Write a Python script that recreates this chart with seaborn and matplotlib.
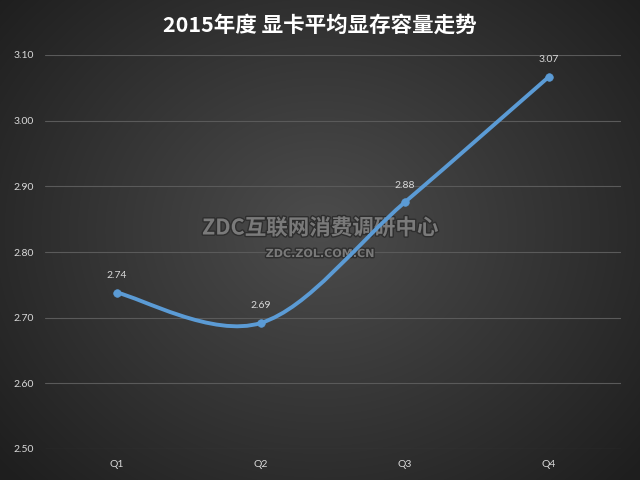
import numpy as np
import pandas as pd
import matplotlib
matplotlib.use("Agg")
import matplotlib.pyplot as plt
import matplotlib.patheffects as pe
from matplotlib.path import Path
from matplotlib.patches import PathPatch
import seaborn as sns

# ----------------------------
# data
# ----------------------------
quarters = ["Q1", "Q2", "Q3", "Q4"]
avg_vram = [2.738, 2.692, 2.876, 3.067]
value_labels = ["2.74", "2.69", "2.88", "3.07"]
y_ticks = [2.50, 2.60, 2.70, 2.80, 2.90, 3.00, 3.10]

title = "2015年度 显卡平均显存容量走势"
wm_main = "ZDC互联网消费调研中心"
wm_sub = "ZDC.ZOL.COM.CN"

df = pd.DataFrame({"quarter": quarters, "vram": avg_vram})
df["pos"] = np.arange(len(df))

sns.set_theme(style="dark")
plt.rcParams["font.family"] = ["Lato", "Noto Sans CJK SC", "DejaVu Sans"]

line_col = "#5b9bd5"
txt_col = "#d9d9d9"

fig = plt.figure(figsize=(6.4, 4.8), dpi=100)

# radial background
ax_bg = fig.add_axes([0, 0, 1, 1], zorder=-10)
yy, xx = np.mgrid[0:480, 0:640]
r = np.sqrt(((xx - 320) / 420.0) ** 2 + ((yy - 230) / 360.0) ** 2)
r = np.clip(r, 0, 1)
c0, c1 = 0.30, 0.12
shade = c0 + (c1 - c0) * r
ax_bg.imshow(np.dstack([shade, shade, shade]), aspect="auto",
             extent=[0, 1, 0, 1], origin="upper")
ax_bg.axis("off")

ax = fig.add_axes([45 / 640, 1 - 449 / 480, 576 / 640, (449 - 55) / 480])
ax.set_facecolor("none")

# smooth line (catmull-rom -> bezier through data points)
x = df["pos"].to_numpy(dtype=float)
y = df["vram"].to_numpy(dtype=float)
px = np.concatenate([[x[0]], x, [x[-1]]])
py = np.concatenate([[y[0]], y, [y[-1]]])
verts = [(x[0], y[0])]
codes = [Path.MOVETO]
for i in range(1, len(px) - 2):
    c1x = px[i] + (px[i + 1] - px[i - 1]) / 6
    c1y = py[i] + (py[i + 1] - py[i - 1]) / 6
    c2x = px[i + 1] - (px[i + 2] - px[i]) / 6
    c2y = py[i + 1] - (py[i + 2] - py[i]) / 6
    verts += [(c1x, c1y), (c2x, c2y), (px[i + 1], py[i + 1])]
    codes += [Path.CURVE4] * 3
ax.add_patch(PathPatch(Path(verts, codes), fill=False, edgecolor=line_col,
                       lw=2.8, capstyle="round", zorder=3))

sns.scatterplot(data=df, x="pos", y="vram", ax=ax, color=line_col, s=30,
                edgecolor=line_col, linewidth=0.5, zorder=4, legend=False)

for xi, yi, lab in zip(x, y, value_labels):
    ax.annotate(lab, (xi, yi), xytext=(0, 9), textcoords="offset points",
                ha="center", va="bottom", color=txt_col, fontsize=7.5)

ax.set_xlim(-0.5, 3.5)
ax.set_ylim(2.50, 3.10)
ax.set_xticks(df["pos"])
ax.set_xticklabels(quarters)
ax.set_yticks(y_ticks)
ax.set_yticklabels([f"{v:.2f}" for v in y_ticks])
ax.tick_params(colors=txt_col, labelsize=7.5, length=0)
ax.tick_params(axis="y", pad=8)
ax.tick_params(axis="x", pad=8)
ax.set_xlabel("")
ax.set_ylabel("")
ax.grid(axis="y", color="#5a5a5a", lw=0.8)
ax.grid(axis="x", visible=False)
for s in ax.spines.values():
    s.set_visible(False)

fig.text(0.5, 0.947, title, ha="center", va="center", color="white",
         fontsize=15.5, fontweight="bold",
         family=["Noto Sans CJK SC", "DejaVu Sans"])

# watermark (behind the line)
stroke = [pe.withStroke(linewidth=2, foreground="#2e2e2e")]
ax.text(0.5, 1 - 228 / 480, wm_main, ha="center", va="center",
        transform=fig.transFigure, color="#7a7a7a", fontsize=15.5,
        fontweight="bold", family=["Noto Sans CJK SC", "DejaVu Sans"],
        path_effects=stroke, zorder=2)
ax.text(0.5, 1 - 254 / 480, wm_sub, ha="center", va="center",
        transform=fig.transFigure, color="#7a7a7a", fontsize=8,
        fontweight="bold", family=["DejaVu Sans"], path_effects=stroke,
        zorder=2)

fig.savefig("out.png", dpi=100)
